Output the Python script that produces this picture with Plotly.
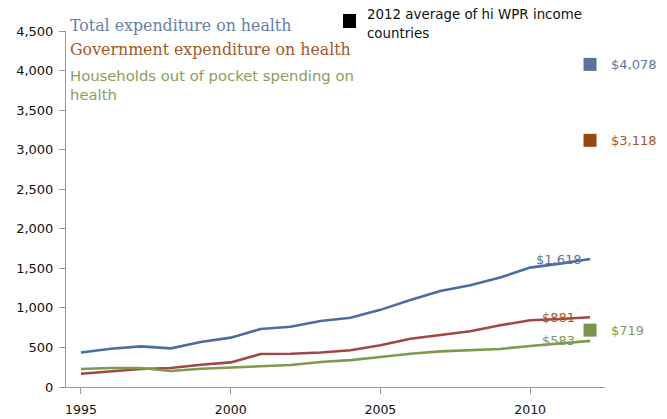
import plotly.graph_objects as go

years = list(range(1995, 2013))
total_exp = [437, 484, 514, 488, 569, 624, 733, 762, 835, 875, 975, 1100, 1214, 1286, 1383, 1509, 1560, 1618]
gov_exp = [168, 202, 227, 240, 282, 311, 417, 421, 437, 465, 527, 611, 662, 704, 780, 843, 860, 881]
hh_oop = [227, 240, 240, 202, 231, 244, 257, 278, 316, 340, 380, 420, 450, 466, 481, 519, 548, 583]

avg_year = 2012
avg_values = [4078, 3118, 719]
avg_labels = ["$4,078", "$3,118", "$719"]
end_labels = ["$1,618", "$881", "$583"]

series_names = ["Total expenditure on health", "Government expenditure on health",
                "Households out of pocket spending on health"]
line_colors = ["#4a6e9e", "#a04848", "#7d9b4c"]
square_colors = ["#5b7199", "#974710", "#7b934f"]
label_colors = ["#5f7599", "#a5582a", "#84985c"]

fig = go.Figure()
for name, vals, col in zip(series_names, [total_exp, gov_exp, hh_oop], line_colors):
    fig.add_trace(go.Scatter(x=years, y=vals, mode="lines", name=name,
                             line=dict(color=col, width=2.6), showlegend=False))

fig.add_trace(go.Scatter(x=[avg_year] * 3, y=avg_values, mode="markers",
                         marker=dict(symbol="square", size=13, color=square_colors, line=dict(width=0)),
                         showlegend=False, cliponaxis=False))

ann = []
for vals, lab, col in zip([total_exp, gov_exp, hh_oop], end_labels, label_colors):
    ann.append(dict(x=2010.95, y=vals[-1], xref="x", yref="y", text=lab, showarrow=False,
                    font=dict(family="DejaVu Sans", size=13, color=col), xanchor="center", yanchor="middle"))
for v, lab, col in zip(avg_values, avg_labels, label_colors):
    ann.append(dict(x=avg_year, y=v, xref="x", yref="y", text=lab, showarrow=False, xshift=19,
                    font=dict(family="DejaVu Sans", size=13, color=col), xanchor="left", yanchor="middle"))

# page-pixel helpers (plot area spans x 66..605, y 31..387 on the page)
def px(xp):
    return (xp - 66) / 539.0

def py(yp):
    return (387 - yp) / 356.0

ann.append(dict(x=px(68), y=py(25), xref="paper", yref="paper", text="Total expenditure on health",
                showarrow=False, xanchor="left", yanchor="middle",
                font=dict(family="DejaVu Serif", size=15.8, color="#6680a8")))
ann.append(dict(x=px(68), y=py(50), xref="paper", yref="paper", text="Government expenditure on health",
                showarrow=False, xanchor="left", yanchor="middle",
                font=dict(family="DejaVu Serif", size=15.8, color="#a5582a")))
ann.append(dict(x=px(68), y=py(84.5), xref="paper", yref="paper",
                text="Households out of pocket spending on<br>health", align="left",
                showarrow=False, xanchor="left", yanchor="middle",
                font=dict(family="DejaVu Sans", size=14.8, color="#8a9e60")))
ann.append(dict(x=px(365), y=py(15), xref="paper", yref="paper", text="2012 average of hi WPR income",
                showarrow=False, xanchor="left", yanchor="middle",
                font=dict(family="DejaVu Sans", size=13.4, color="#111111")))
ann.append(dict(x=px(365), y=py(33), xref="paper", yref="paper", text="countries",
                showarrow=False, xanchor="left", yanchor="middle",
                font=dict(family="DejaVu Sans", size=13.4, color="#111111")))

# the page has an 8px body margin, so the figure is 8px smaller than the window
fig.update_layout(
    width=659, height=411,
    margin=dict(l=58, r=62, t=23, b=32, autoexpand=False),
    paper_bgcolor="white", plot_bgcolor="white",
    annotations=ann,
    shapes=[dict(type="rect", xref="paper", yref="paper", x0=px(343), x1=px(356), y0=py(28), y1=py(14),
                 fillcolor="black", line=dict(width=0))],
    xaxis=dict(range=[1994.5, 2012.5], tickvals=[1995, 2000, 2005, 2010], ticks="outside", ticklen=6,
               tickcolor="#999999", showline=True, linecolor="#999999", linewidth=1, showgrid=False,
               zeroline=False, ticklabelstandoff=5, automargin=False,
               tickfont=dict(family="DejaVu Sans", size=12.5, color="#111111")),
    yaxis=dict(range=[0, 4500], dtick=500, tickformat=",d", ticks="outside", ticklen=6,
               tickcolor="#999999", showline=True, linecolor="#999999", linewidth=1, showgrid=False,
               zeroline=False, ticklabelstandoff=3, automargin=False,
               tickfont=dict(family="DejaVu Sans", size=13, color="#111111")),
)

fig.write_html("out.html")
